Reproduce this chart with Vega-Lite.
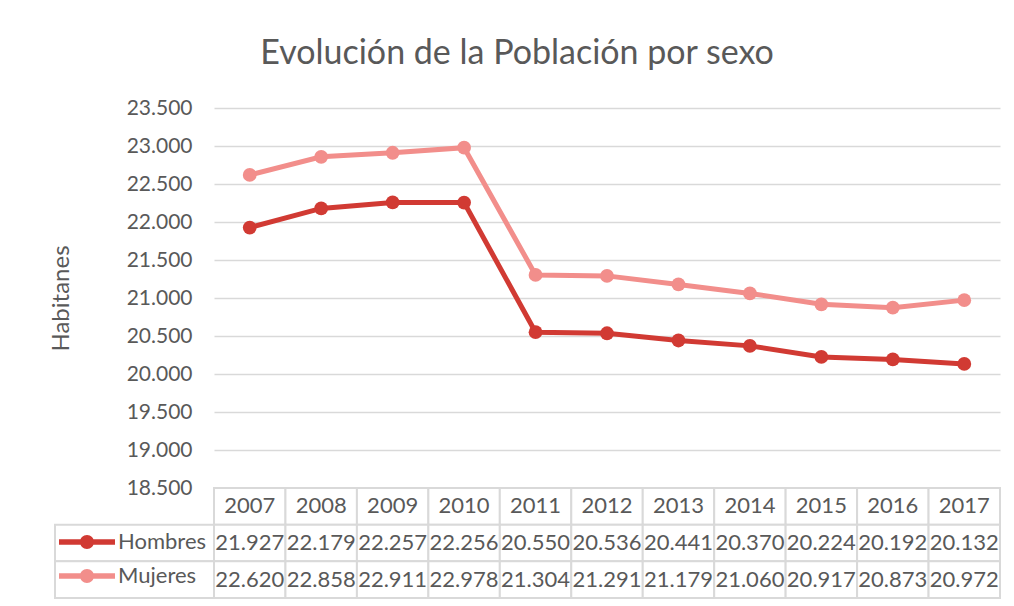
{
  "$schema": "https://vega.github.io/schema/vega-lite/v6.json",
  "background": "white",
  "padding": {"left": 49, "top": 37, "right": 14, "bottom": 9},
  "title": {"text": "Evolución de la Población por sexo", "fontSize": 34, "font": "Lato", "fontWeight": "normal", "color": "#595959", "anchor": "middle", "offset": 26, "dx": -8},
  "config": {
    "locale": {"number": {"decimal": ",", "thousands": ".", "grouping": [3], "currency": ["", " €"]}},
    "view": {"stroke": null},
    "font": "Lato"
  },
  "datasets": {
    "pop": [
      {"year": 2007, "sexo": "Hombres", "habitantes": 21927},
      {"year": 2008, "sexo": "Hombres", "habitantes": 22179},
      {"year": 2009, "sexo": "Hombres", "habitantes": 22257},
      {"year": 2010, "sexo": "Hombres", "habitantes": 22256},
      {"year": 2011, "sexo": "Hombres", "habitantes": 20550},
      {"year": 2012, "sexo": "Hombres", "habitantes": 20536},
      {"year": 2013, "sexo": "Hombres", "habitantes": 20441},
      {"year": 2014, "sexo": "Hombres", "habitantes": 20370},
      {"year": 2015, "sexo": "Hombres", "habitantes": 20224},
      {"year": 2016, "sexo": "Hombres", "habitantes": 20192},
      {"year": 2017, "sexo": "Hombres", "habitantes": 20132},
      {"year": 2007, "sexo": "Mujeres", "habitantes": 22620},
      {"year": 2008, "sexo": "Mujeres", "habitantes": 22858},
      {"year": 2009, "sexo": "Mujeres", "habitantes": 22911},
      {"year": 2010, "sexo": "Mujeres", "habitantes": 22978},
      {"year": 2011, "sexo": "Mujeres", "habitantes": 21304},
      {"year": 2012, "sexo": "Mujeres", "habitantes": 21291},
      {"year": 2013, "sexo": "Mujeres", "habitantes": 21179},
      {"year": 2014, "sexo": "Mujeres", "habitantes": 21060},
      {"year": 2015, "sexo": "Mujeres", "habitantes": 20917},
      {"year": 2016, "sexo": "Mujeres", "habitantes": 20873},
      {"year": 2017, "sexo": "Mujeres", "habitantes": 20972}
    ]
  },
  "data": {"name": "pop"},
  "bounds": "flush",
  "spacing": 0,
  "columns": 2,
  "concat": [
    {
      "width": 159,
      "height": 380,
      "transform": [{"filter": {"field": "year", "equal": 0}}],
      "mark": {"type": "text"},
      "encoding": {"text": {"value": ""}}
    },
    {
      "width": 786,
      "height": 380,
      "encoding": {
        "x": {"field": "year", "type": "ordinal", "scale": {"padding": 0.5}, "axis": null},
        "y": {
          "field": "habitantes", "type": "quantitative",
          "scale": {"domain": [18500, 23500], "nice": false, "zero": false},
          "axis": {
            "values": [18500, 19000, 19500, 20000, 20500, 21000, 21500, 22000, 22500, 23000, 23500],
            "format": ",d", "title": "Habitanes", "grid": true, "gridColor": "#d9d9d9", "gridWidth": 1.5,
            "domain": false, "ticks": false, "labelFontSize": 21, "labelColor": "#595959", "labelPadding": 22,
            "titleFontSize": 24, "titleFontWeight": "normal", "titleColor": "#595959", "titlePadding": 53
          }
        },
        "color": {
          "field": "sexo", "type": "nominal",
          "scale": {"domain": ["Hombres", "Mujeres"], "range": ["#d13a33", "#f28e8b"]},
          "legend": {
            "orient": "none", "legendX": 18, "legendY": 420, "title": null, "padding": 0,
            "symbolType": "M-2,-0.2L2,-0.2L2,0.2L-2,0.2Z M0.5,0A0.5,0.5,0,1,1,-0.5,0A0.5,0.5,0,1,1,0.5,0Z",
            "symbolSize": 784, "symbolStrokeWidth": 0, "symbolOpacity": 1,
            "labelFontSize": 22, "labelColor": "#595959", "labelOffset": 17, "rowPadding": 9,
            "encode": {"symbols": {"update": {"fill": {"scale": "color", "field": "value"}, "stroke": {"value": "transparent"}, "opacity": {"value": 1}}}}
          }
        }
      },
      "layer": [
        {"mark": {"type": "line", "strokeWidth": 5}},
        {"mark": {"type": "point", "filled": true, "size": 190, "opacity": 1}}
      ]
    },
    {
      "width": 159,
      "height": 110,
      "transform": [{"filter": {"field": "year", "equal": 2007}}],
      "mark": {"type": "rect", "fill": "white", "stroke": "#d9d9d9", "strokeWidth": 2},
      "encoding": {
        "y": {"field": "sexo", "type": "nominal", "scale": {"domain": ["Año", "Hombres", "Mujeres"], "paddingInner": 0, "paddingOuter": 0}, "axis": null}
      }
    },
    {
      "width": 786,
      "height": 110,
      "encoding": {
        "x": {"field": "year", "type": "ordinal", "scale": {"paddingInner": 0, "paddingOuter": 0}, "axis": null}
      },
      "layer": [
        {
          "transform": [{"filter": {"field": "sexo", "equal": "Hombres"}}],
          "mark": {"type": "rect", "fill": "white", "stroke": "#d9d9d9", "strokeWidth": 2},
          "encoding": {"y": {"datum": "Año", "type": "nominal", "scale": {"domain": ["Año", "Hombres", "Mujeres"], "paddingInner": 0, "paddingOuter": 0}, "axis": null}}
        },
        {
          "transform": [{"filter": {"field": "sexo", "equal": "Hombres"}}],
          "mark": {"type": "text", "fontSize": 22, "fill": "#595959"},
          "encoding": {"y": {"datum": "Año", "type": "nominal"}, "text": {"field": "year", "type": "nominal"}}
        },
        {
          "mark": {"type": "rect", "fill": "white", "stroke": "#d9d9d9", "strokeWidth": 2},
          "encoding": {"y": {"field": "sexo", "type": "nominal"}}
        },
        {
          "mark": {"type": "text", "fontSize": 22, "fill": "#595959"},
          "encoding": {"y": {"field": "sexo", "type": "nominal"}, "text": {"field": "habitantes", "type": "quantitative", "format": ",d"}}
        }
      ]
    }
  ]
}
